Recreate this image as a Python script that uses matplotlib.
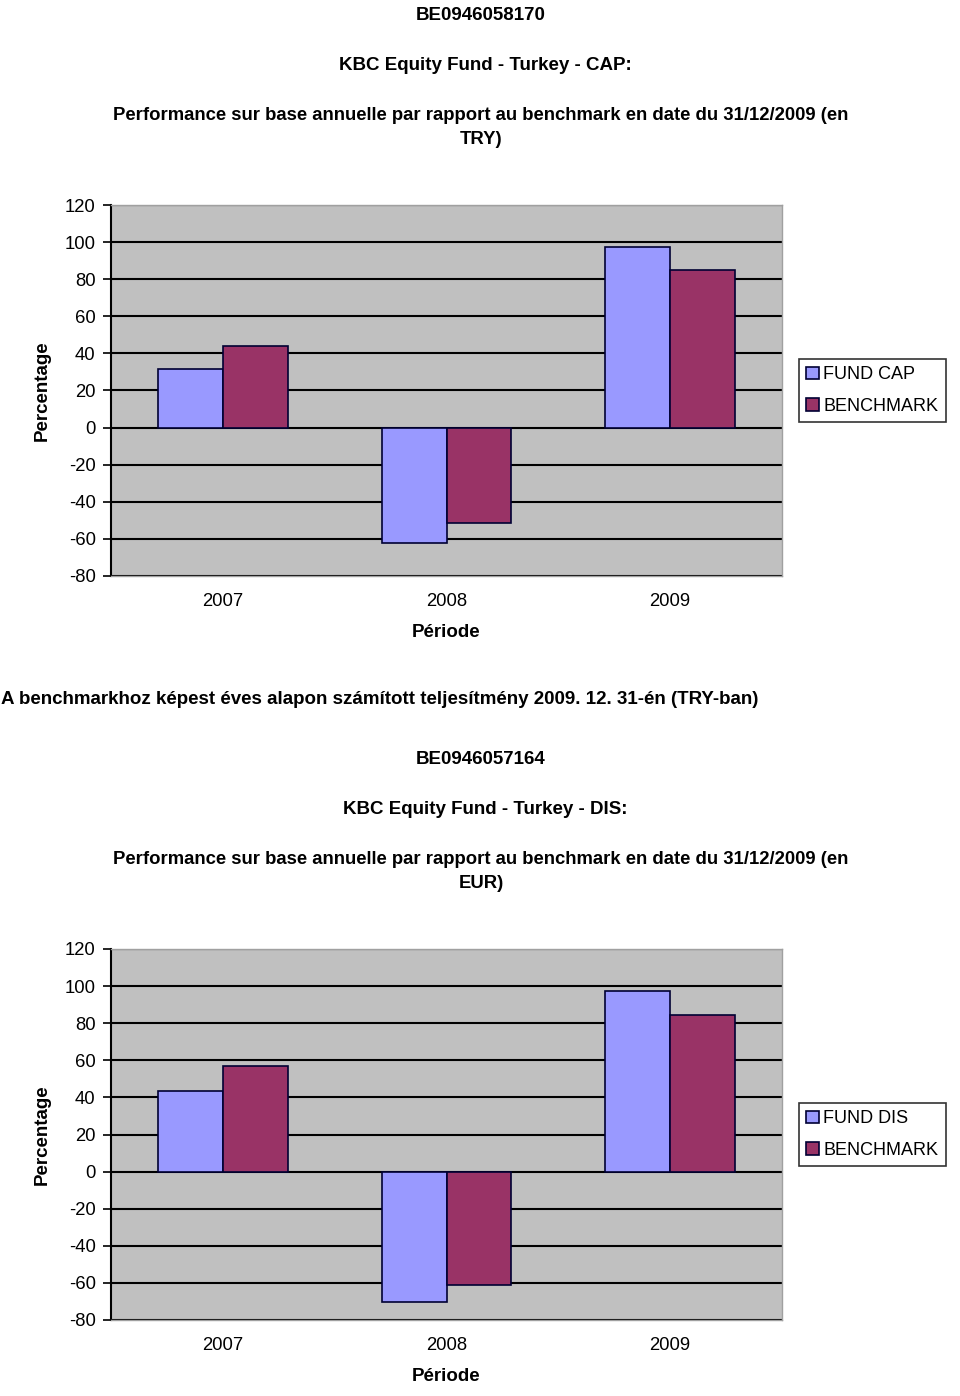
import matplotlib
matplotlib.use("Agg")
import matplotlib.pyplot as plt
import numpy as np

categories = ["2007", "2008", "2009"]
fund_cap = [31.5, -62.3, 97.1]
bench_cap = [43.8, -51.5, 84.7]
fund_dis = [43.6, -70.1, 97.1]
bench_dis = [56.9, -61.4, 84.5]
yticks = [120, 100, 80, 60, 40, 20, 0, -20, -40, -60, -80]

FUND_C = "#9999FF"
BENCH_C = "#993366"
BG = "#C0C0C0"
FONT = "Liberation Sans"

plt.rcParams["font.family"] = [FONT, "DejaVu Sans"]

W, H = 960, 1396
fig = plt.figure(figsize=(W / 100, H / 100), dpi=100)
fig.patch.set_facecolor("white")

def px_axes(left, top, right, bottom):
    return fig.add_axes([left / W, (H - bottom) / H, (right - left) / W, (bottom - top) / H])

def ftext(x, y, s, **kw):
    fig.text(x / W, 1 - y / H, s, **kw)

def draw_chart(top, code, name, cur, fund, bench, fund_label):
    ftext(481, top + 15, code, ha="center", va="center", fontsize=13.5, fontweight="bold")
    ftext(485, top + 65, name, ha="center", va="center", fontsize=13.5, fontweight="bold")
    ftext(481, top + 115, "Performance sur base annuelle par rapport au benchmark en date du 31/12/2009 (en",
          ha="center", va="center", fontsize=13.3, fontweight="bold")
    ftext(481, top + 140, cur, ha="center", va="center", fontsize=13.3, fontweight="bold")

    ax = px_axes(111, top + 205, 782, top + 576)
    ax.set_facecolor(BG)
    x = np.arange(len(categories))
    w = 0.29
    ax.set_axisbelow(True)
    ax.yaxis.grid(True, color="black", linewidth=1.5)
    ax.bar(x - w / 2, fund, w, color=FUND_C, edgecolor="#000033", linewidth=1.2, label=fund_label, zorder=3)
    ax.bar(x + w / 2, bench, w, color=BENCH_C, edgecolor="#000033", linewidth=1.2, label="BENCHMARK", zorder=3)
    ax.set_xlim(-0.5, 2.5)
    ax.set_ylim(-80, 120)
    ax.set_yticks(yticks)
    ax.set_yticklabels([str(v) for v in yticks], fontsize=13.3)
    ax.set_xticks(x)
    ax.set_xticklabels(categories, fontsize=13.3)
    ax.tick_params(axis="x", length=0, pad=12)
    ax.tick_params(axis="y", length=6, width=1.2, pad=5)
    for s in ["top", "right", "bottom"]:
        ax.spines[s].set_color("#A0A0A0")
        ax.spines[s].set_linewidth(1)
    ax.spines["left"].set_color("black")
    ax.spines["left"].set_linewidth(1.5)
    ax.set_xlabel("Période", fontsize=13.5, fontweight="bold", labelpad=10)
    ax.set_ylabel("Percentage", fontsize=13.5, fontweight="bold", labelpad=10)
    leg = ax.legend(loc="upper left", bbox_to_anchor=((799 - 111) / 671, (576 - 359) / 371),
                    frameon=True, fancybox=False, edgecolor="black", fontsize=13,
                    handlelength=0.7, handleheight=0.7, handletextpad=0.25, borderpad=0.4,
                    labelspacing=0.8, borderaxespad=0)
    leg.get_frame().set_linewidth(1.2)
    return ax

draw_chart(0, "BE0946058170", "KBC Equity Fund - Turkey - CAP:", "TRY)", fund_cap, bench_cap, "FUND CAP")
ftext(1, 699, "A benchmarkhoz képest éves alapon számított teljesítmény 2009. 12. 31-én (TRY-ban)",
      ha="left", va="center", fontsize=13.5, fontweight="bold")
draw_chart(744, "BE0946057164", "KBC Equity Fund - Turkey - DIS:", "EUR)", fund_dis, bench_dis, "FUND DIS")

fig.savefig("out.png", dpi=100, facecolor="white")
